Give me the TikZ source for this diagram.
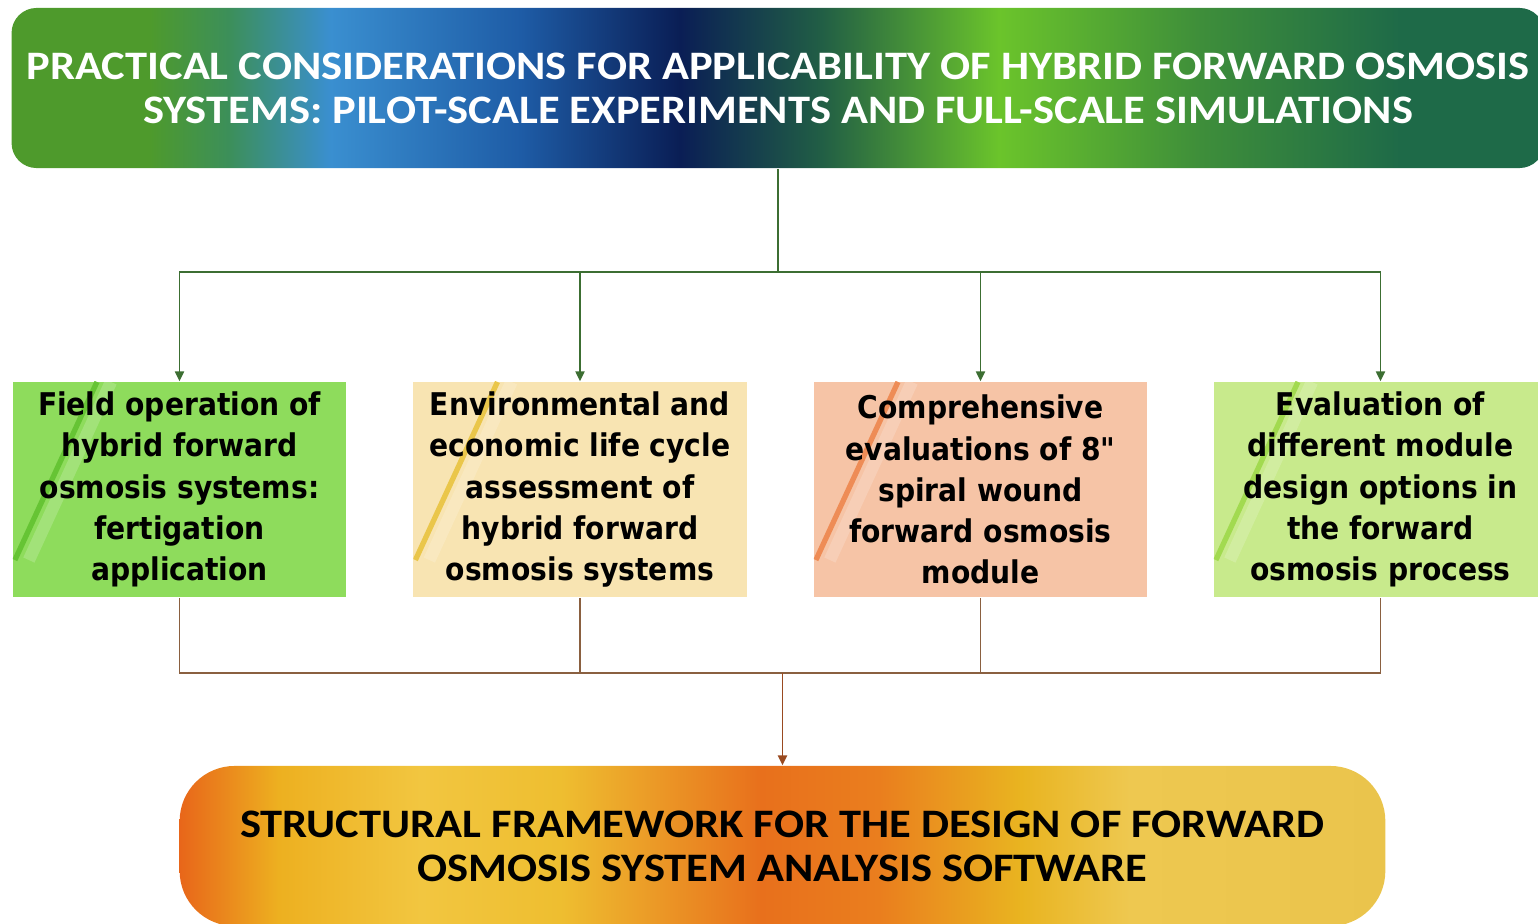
\documentclass[tikz,border=0pt]{standalone}
\usepackage{fontspec}
\setmainfont{Carlito}
\newfontfamily\bannerfont{Carlito}[FakeStretch=1.1]
\newfontfamily\boxfont{DejaVu Sans Condensed}
\usetikzlibrary{arrows.meta}

\definecolor{tbA}{HTML}{4E9A2C}
\definecolor{tbB}{HTML}{3C8F5A}
\definecolor{tbC}{HTML}{3A8FD0}
\definecolor{tbD}{HTML}{1E5CA6}
\definecolor{tbE}{HTML}{0A1E55}
\definecolor{tbF}{HTML}{215E45}
\definecolor{tbG}{HTML}{6BC42B}
\definecolor{tbH}{HTML}{3E8E3A}
\definecolor{tbI}{HTML}{1E6A48}
\definecolor{bbA}{HTML}{E8661A}
\definecolor{bbB}{HTML}{EDB020}
\definecolor{bbC}{HTML}{F2C640}
\definecolor{bbD}{HTML}{EEBE30}
\definecolor{bbE}{HTML}{E8701C}
\definecolor{bbF}{HTML}{EA7E1E}
\definecolor{bbG}{HTML}{E9B420}
\definecolor{bbH}{HTML}{EEC850}
\definecolor{bbI}{HTML}{EAC44C}
\definecolor{fieldfill}{HTML}{8EDC5C}
\definecolor{fieldline}{HTML}{66C434}
\definecolor{lcafill}{HTML}{F8E4B2}
\definecolor{lcaline}{HTML}{EAC64A}
\definecolor{spiralfill}{HTML}{F6C4A6}
\definecolor{spiralline}{HTML}{EE8C56}
\definecolor{designfill}{HTML}{C8EA8C}
\definecolor{designline}{HTML}{A2DA50}
\definecolor{feedgreen}{HTML}{3C6E32}
\definecolor{joinbrown}{HTML}{8A6040}
\definecolor{arrbrown}{HTML}{9A4A20}

\pgfdeclarehorizontalshading{titlefade}{100bp}{color(0bp)=(tbA); color(29.5bp)=(tbA);
  color(32.1bp)=(tbB); color(35.4bp)=(tbC); color(41.6bp)=(tbD); color(46.8bp)=(tbE);
  color(51.4bp)=(tbF); color(57.2bp)=(tbG); color(63.8bp)=(tbH); color(70.3bp)=(tbI);
  color(100bp)=(tbI)}
\pgfdeclarehorizontalshading{basefade}{100bp}{color(0bp)=(bbA); color(25bp)=(bbA);
  color(29.1bp)=(bbB); color(35bp)=(bbC); color(40.8bp)=(bbD); color(49.1bp)=(bbE);
  color(54bp)=(bbF); color(59.9bp)=(bbG); color(64.4bp)=(bbH); color(75bp)=(bbI);
  color(100bp)=(bbI)}

\tikzset{
  titlebar/.style={rounded corners=2.5mm, shading=titlefade, minimum width=15.32cm,
    minimum height=1.6cm, align=center, text=white,
    font=\bannerfont\bfseries\fontsize{11.5}{12.5}\selectfont},
  basebar/.style={rounded corners=5.5mm, shading=basefade, minimum width=12.05cm,
    minimum height=1.6cm, align=center, text=black,
    font=\bannerfont\bfseries\fontsize{11.5}{12.5}\selectfont},
  topicbox/.style={minimum width=3.33cm, minimum height=2.15cm, inner sep=0pt,
    align=center, font=\boxfont\bfseries\fontsize{8.9}{11.7}\selectfont},
  slashcolor/.style={path picture={
      \draw[white, opacity=.18, line width=3.5pt]
        ([shift={(1.6mm,3.7mm)}]path picture bounding box.south west) --
        ([shift={(9.8mm,0mm)}]path picture bounding box.north west);
      \draw[#1, line width=1.5pt]
        ([shift={(0.2mm,3.7mm)}]path picture bounding box.south west) --
        ([shift={(8.4mm,0mm)}]path picture bounding box.north west);
    }},
  feedline/.style={draw=feedgreen, line width=0.45pt},
  feedarr/.style={feedline, -{Triangle[length=2.8pt, width=2.6pt]}},
  joinline/.style={draw=joinbrown, line width=0.4pt},
  joinarr/.style={draw=arrbrown, line width=0.5pt, -{Triangle[length=2.8pt, width=2.6pt]}},
}

\begin{document}
\begin{tikzpicture}[x=0.01cm, y=-0.01cm]
\useasboundingbox (0,0) rectangle (1538,924);

\node[titlebar] (title) at (778,88)
  {PRACTICAL CONSIDERATIONS FOR APPLICABILITY OF HYBRID FORWARD OSMOSIS\\
   SYSTEMS: PILOT-SCALE EXPERIMENTS AND FULL-SCALE SIMULATIONS};

\node[topicbox, fill=fieldfill, slashcolor=fieldline] (field) at (179.5,489.5)
  {Field operation of\\hybrid forward\\osmosis systems:\\fertigation\\application};
\node[topicbox, fill=lcafill, slashcolor=lcaline] (lca) at (580,489.5)
  {Environmental and\\economic life cycle\\assessment of\\hybrid forward\\osmosis systems};
\node[topicbox, fill=spiralfill, slashcolor=spiralline] (spiral) at (980.5,489.5)
  {Comprehensive\\evaluations of 8"\\spiral wound\\forward osmosis\\module};
\node[topicbox, fill=designfill, slashcolor=designline] (design) at (1380.5,489.5)
  {Evaluation of\\different module\\design options in\\the forward\\osmosis process};

\node[basebar] (frame) at (782.5,846)
  {STRUCTURAL FRAMEWORK FOR THE DESIGN OF FORWARD\\
   OSMOSIS SYSTEM ANALYSIS SOFTWARE};

\coordinate (split) at (778,272);
\coordinate (join) at (782.5,673);

\draw[feedline] (title.south) -- (split);
\foreach \b in {field,lca,spiral,design} \draw[feedarr] (split) -| (\b.north);
\foreach \b in {field,lca,spiral,design} \draw[joinline] (\b.south) |- (join);
\draw[joinarr] (join) -- (frame.north);
\end{tikzpicture}
\end{document}
